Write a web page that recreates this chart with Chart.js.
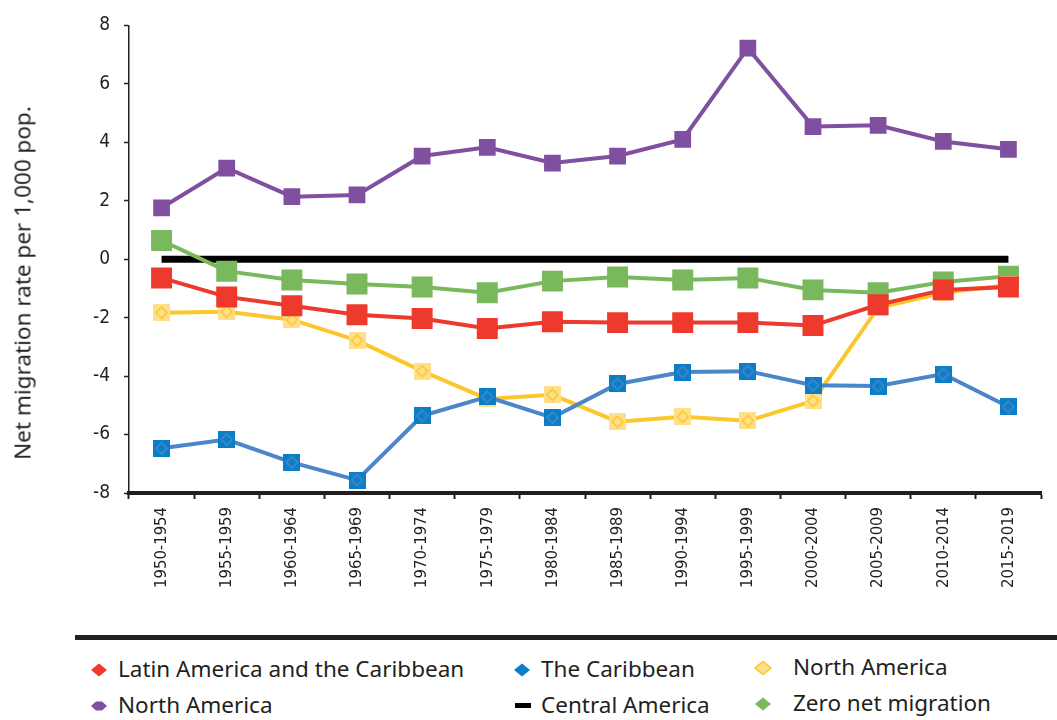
<!DOCTYPE html>
<html>
<head>
<meta charset="utf-8">
<script src="https://cdn.jsdelivr.net/npm/chart.js@4.4.1/dist/chart.umd.min.js"></script>
<style>
  body { margin: 0; background: #fff; width: 1057px; height: 720px; overflow: hidden; font-family: "Noto Sans", sans-serif; }
  #wrap { position: absolute; left: 0; top: 0; width: 1057px; height: 600px; }
  #sep { position: absolute; left: 75px; top: 635px; width: 982px; height: 5px; background: #231f20; }
  #ytitle { position: absolute; left: 22px; top: 283px; transform: translate(-50%, -50%) rotate(-90deg);
            font-size: 22.5px; color: #231f20; white-space: nowrap; }
  .item { position: absolute; font-size: 22.5px; color: #231f20; line-height: 26px; white-space: nowrap; }
  .mk { position: absolute; }
</style>
</head>
<body>
<div id="wrap"><canvas id="myChart"></canvas></div>
<div id="ytitle">Net migration rate per 1,000 pop.</div>
<div id="sep"></div>
<div id="legend"></div>
<script>
// periods on the x axis
const periods = ['1950-1954', '1955-1959', '1960-1964', '1965-1969', '1970-1974', '1975-1979', '1980-1984',
    '1985-1989', '1990-1994', '1995-1999', '2000-2004', '2005-2009', '2010-2014', '2015-2019'];

// net migration rate per 1,000 pop.
const latinAmerica = [-0.64, -1.29, -1.59, -1.9, -2.03, -2.37, -2.14, -2.17, -2.17, -2.17, -2.27, -1.56, -1.05, -0.95];
const caribbean = [-6.47, -6.17, -6.95, -7.56, -5.36, -4.71, -5.42, -4.27, -3.86, -3.83, -4.31, -4.34, -3.93, -5.05];
const northAmericaY = [-1.83, -1.8, -2.07, -2.78, -3.83, -4.78, -4.64, -5.56, -5.39, -5.53, -4.85, -1.66, -1.15, -0.88];
const northAmericaP = [1.76, 3.12, 2.14, 2.2, 3.53, 3.83, 3.29, 3.53, 4.1, 7.22, 4.54, 4.58, 4.03, 3.76];
const centralAmerica = [0, 0, 0, 0, 0, 0, 0, 0, 0, 0, 0, 0, 0, 0];
const zeroNet = [0.64, -0.41, -0.71, -0.85, -0.95, -1.15, -0.75, -0.61, -0.71, -0.64, -1.05, -1.15, -0.78, -0.58];

const yTicks = [-8, -6, -4, -2, 0, 2, 4, 6, 8];

const tickFont = '"DejaVu Sans Condensed", sans-serif';
const ink = '#231f20';

// square marker with a diamond outline inside
function diamondSquare(fill, line) {
    const c = document.createElement('canvas');
    c.width = 17; c.height = 17;
    const g = c.getContext('2d');
    g.fillStyle = fill;
    g.fillRect(0, 0, 17, 17);
    g.strokeStyle = line;
    g.lineWidth = 1.6;
    g.beginPath();
    g.moveTo(8.5, 3); g.lineTo(14, 8.5); g.lineTo(8.5, 14); g.lineTo(3, 8.5); g.closePath();
    g.stroke();
    return c;
}

const ctx = document.getElementById('myChart').getContext('2d');
const chart = new Chart(ctx, {
    type: 'line',
    data: {
        labels: periods,
        datasets: [
            { label: 'Latin America and the Caribbean', data: latinAmerica, borderColor: '#ee3a2c', backgroundColor: '#ee3a2c',
              borderWidth: 4, pointStyle: 'rect', pointRadius: 12, order: 1 },
            { label: 'The Caribbean', data: caribbean, borderColor: '#4a86c8', backgroundColor: '#0a7fc8',
              borderWidth: 4, pointStyle: diamondSquare('#0a7fc8', '#4a86c8'), order: 2 },
            { label: 'North America', data: northAmericaY, borderColor: '#fcc72e', backgroundColor: '#ffe08a',
              borderWidth: 4, pointStyle: diamondSquare('#ffe08a', '#fcc72e'), order: 3 },
            { label: 'North America', data: northAmericaP, borderColor: '#804fa0', backgroundColor: '#804fa0',
              borderWidth: 4, pointStyle: 'rect', pointRadius: 9, order: 3 },
            { label: 'Central America', data: centralAmerica, borderColor: '#000', backgroundColor: '#000',
              borderWidth: 7, pointRadius: 0, order: 5 },
            { label: 'Zero net migration', data: zeroNet, borderColor: '#7ab85d', backgroundColor: '#7ab85d',
              borderWidth: 4, pointStyle: 'rect', pointRadius: 12, order: 4 }
        ]
    },
    options: {
        responsive: true,
        maintainAspectRatio: false,
        animation: false,
        layout: { padding: { top: 3, right: 7, left: 0, bottom: 0 } },
        elements: { point: { borderWidth: 0 }, line: { tension: 0 } },
        plugins: { legend: { display: false }, tooltip: { enabled: false } },
        scales: {
            x: {
                offset: true,
                border: { color: ink, width: 4 },
                grid: { offset: true, drawOnChartArea: false, drawTicks: true, tickLength: 6, tickWidth: 2, color: ink },
                ticks: { color: ink, font: { family: tickFont, size: 16.5 }, minRotation: 90, maxRotation: 90, padding: 8 },
                afterFit: (s) => { s.height = 107; }
            },
            y: {
                min: -8, max: 8,
                afterBuildTicks: (s) => { s.ticks = yTicks.map(v => ({ value: v })); },
                border: { color: ink, width: 1.5 },
                grid: { drawOnChartArea: false, tickLength: 5, tickWidth: 1.5, color: ink },
                ticks: { color: ink, font: { family: tickFont, size: 19 }, padding: 14 },
                afterFit: (s) => { s.width = 129; }
            }
        }
    }
});

// legend drawn as html below the chart
const legendItems = [
    { text: 'Latin America and the Caribbean', x: 88, y: 656, mk: 'dia', c: '#ee3a2c' },
    { text: 'The Caribbean', x: 511, y: 656, mk: 'dia', c: '#0a7fc8' },
    { text: 'North America', x: 752, y: 654, mk: 'diaY', c: '#ffe08a' },
    { text: 'North America', x: 88, y: 692, mk: 'flat', c: '#804fa0' },
    { text: 'Central America', x: 511, y: 692, mk: 'dash', c: '#000' },
    { text: 'Zero net migration', x: 752, y: 690, mk: 'dia', c: '#7ab85d' }
];
const textX = { 88: 118, 511: 541, 752: 793 };
const lg = document.getElementById('legend');
legendItems.forEach(it => {
    const m = document.createElement('canvas');
    m.width = 22; m.height = 16;
    m.className = 'mk';
    m.style.left = it.x + 'px';
    m.style.top = (it.y + 6) + 'px';
    const g = m.getContext('2d');
    g.fillStyle = it.c;
    g.beginPath();
    if (it.mk === 'dash') {
        g.fillRect(4, 5, 16, 5);
    } else if (it.mk === 'flat') {
        g.moveTo(3, 8); g.lineTo(8, 3.5); g.lineTo(14, 3.5); g.lineTo(19, 8); g.lineTo(14, 12.5); g.lineTo(8, 12.5);
        g.closePath(); g.fill();
    } else {
        g.moveTo(3, 8); g.lineTo(11, 1.5); g.lineTo(19, 8); g.lineTo(11, 14.5); g.closePath(); g.fill();
        if (it.mk === 'diaY') { g.strokeStyle = '#fcc72e'; g.lineWidth = 1.6; g.stroke(); }
    }
    lg.appendChild(m);
    const t = document.createElement('div');
    t.className = 'item';
    t.textContent = it.text;
    t.style.left = textX[it.x] + 'px';
    t.style.top = it.y + 'px';
    lg.appendChild(t);
});
</script>
</body>
</html>
